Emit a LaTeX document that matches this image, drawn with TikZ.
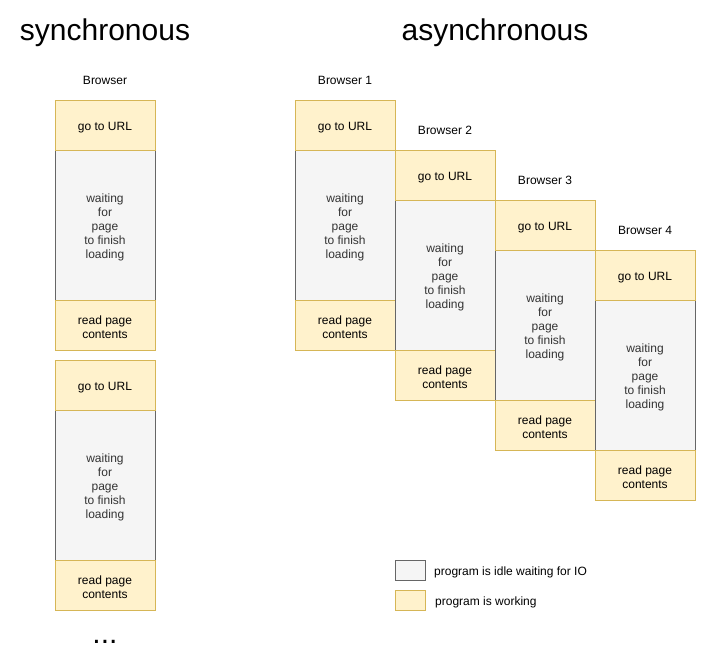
\documentclass[tikz,border=0pt]{standalone}
\usepackage{fontspec}
\setmainfont{Liberation Sans}
\usetikzlibrary{positioning}

\definecolor{workfill}{HTML}{FFF2CC}
\definecolor{workline}{HTML}{D6B656}
\definecolor{idlefill}{HTML}{F5F5F5}
\definecolor{idleline}{HTML}{666666}
\definecolor{idletext}{HTML}{333333}

% first line a bit taller, so the text sits where draw.io puts it
\newcommand{\lift}{\rule{0pt}{12.5pt}}
\newcommand{\waittext}{\lift waiting\\for\\page\\to finish\\loading}
\newcommand{\readtext}{\lift read page\\contents}

\tikzset{
    box/.style={minimum width=100pt, inner sep=0pt, outer sep=0pt, align=center,
        line width=1pt, font=\fontsize{12}{14}\selectfont},
    work/.style={box, draw=workline, fill=workfill, minimum height=50pt},
    idle/.style={box, draw=idleline, fill=idlefill, text=idletext, minimum height=150pt},
    browser/.style={inner sep=0pt, font=\fontsize{12}{14}\selectfont},
    title/.style={inner sep=0pt, font=\fontsize{30}{36}\selectfont},
    legendbox/.style={minimum width=30pt, minimum height=20pt, inner sep=0pt, outer sep=0pt, line width=1pt},
    legendtext/.style={inner sep=0pt, anchor=west, font=\fontsize{12}{14}\selectfont},
}

\begin{document}
\begin{tikzpicture}[x=1pt, y=-1pt]
        \useasboundingbox (0, 0) rectangle (706, 661);
        % titles
        \node[title] (sync) at (105, 33) {synchronous};
        \node[title] (async) at (495, 33) {asynchronous};

        % synchronous: one browser doing everything in turn
        \node[idle, anchor=north] (wait1) at (105, 150) {\waittext};
        \node[work, above=0pt of wait1] (url1) {\lift go to URL};
        \node[work, below=0pt of wait1] (read1) {\readtext};
        \node[browser, above=15pt of url1] (sbrowser) {Browser};
        \node[idle, below=60pt of read1.south, anchor=north] (wait2) {\waittext};
        \node[work, above=0pt of wait2] (url2) {\lift go to URL};
        \node[work, below=0pt of wait2] (read2) {\readtext};
        \node[inner sep=0pt, below=30pt of read2, font=\fontsize{30}{36}\selectfont] (dots) {...};

        % asynchronous: four browsers, each started 50 later
        \foreach \i in {1,...,4} {
            \node[idle, anchor=north] (await\i) at ({245 + 100*\i}, {100 + 50*\i}) {\waittext};
            \node[work, above=0pt of await\i] (aurl\i) {\lift go to URL};
            \node[work, below=0pt of await\i] (aread\i) {\readtext};
            \node[browser, above=15pt of aurl\i] (abrowser\i) {Browser \i};
        }

        % legend
        \node[legendbox, draw=idleline, fill=idlefill, anchor=north west] (legidle) at (395, 560) {};
        \node[legendbox, draw=workline, fill=workfill, below=10pt of legidle] (legwork) {};
        \node[legendtext, right=9pt of legidle] (legidletext) {\lift program is idle waiting for IO};
        \node[legendtext, right=10pt of legwork] (legworktext) {\lift program is working};
    \end{tikzpicture}
\end{document}
